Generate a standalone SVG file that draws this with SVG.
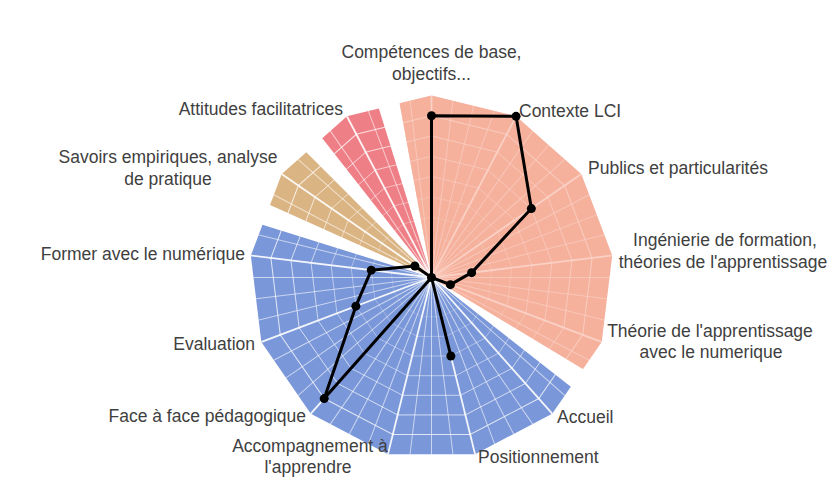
<svg xmlns="http://www.w3.org/2000/svg" xmlns:xlink="http://www.w3.org/1999/xlink" width="828" height="483" viewBox="0 0 828 483">
<style>
  .lbl { font-family: "Liberation Sans", Arial, sans-serif; font-size: 17.5px; fill: #404040; }
  .mid { text-anchor: middle; }
  .end { text-anchor: end; }
  .ring { fill: none; stroke: #ffffff; stroke-width: 1.2; stroke-opacity: 0.75; vector-effect: non-scaling-stroke; }
  .minor { stroke: #ffffff; stroke-width: 1; stroke-opacity: 0.6; }
  .major { stroke: #ffffff; stroke-width: 1.8; stroke-opacity: 0.9; }
  .series { fill: none; stroke: #000000; stroke-width: 3; stroke-linejoin: round; }
  .dot { fill: #000000; }
</style>
<defs>
  <polygon id="gon" points="0,-182 84.58,-161.16 149.79,-103.39 180.67,-21.93 170.17,64.54 120.68,136.23 43.55,176.7 -43.55,176.7 -120.68,136.23 -170.17,64.54 -180.67,-21.93 -149.79,-103.39 -84.58,-161.16"/>
  <clipPath id="outer">
    <polygon points="431.5,95.5 516.08,116.34 581.29,174.11 612.17,255.57 601.67,342.04 552.18,413.73 475.05,454.2 387.95,454.2 310.82,413.73 261.33,342.04 250.83,255.57 281.71,174.11 346.92,116.34"/>
  </clipPath>
</defs>
<rect width="828" height="483" fill="#ffffff"/>

<g id="sectors">
  <polygon id="sector-salmon" fill="#F5B19D" points="431.5,277.5 399.6,103.37 431.5,95.5 516.08,116.34 581.29,174.11 612.17,255.57 601.67,342.04 582.99,369.08"/>
  <polygon id="sector-blue" fill="#7A97D9" points="431.5,277.5 570.82,386.71 552.18,413.73 475.05,454.2 387.95,454.2 310.82,413.73 261.33,342.04 250.83,255.57 262.47,224.85"/>
  <polygon id="sector-tan" fill="#DBB483" points="431.5,277.5 270.03,204.93 281.71,174.11 306.32,152.32"/>
  <polygon id="sector-red" fill="#EF7F86" points="431.5,277.5 322.27,138.2 346.92,116.34 378.85,108.47"/>
</g>

<g id="grid" clip-path="url(#outer)">
  <g transform="translate(431.5 277.5)">
    <use xlink:href="#gon" class="ring" transform="scale(0.1111)"/>
    <use xlink:href="#gon" class="ring" transform="scale(0.2222)"/>
    <use xlink:href="#gon" class="ring" transform="scale(0.3333)"/>
    <use xlink:href="#gon" class="ring" transform="scale(0.4444)"/>
    <use xlink:href="#gon" class="ring" transform="scale(0.5556)"/>
    <use xlink:href="#gon" class="ring" transform="scale(0.6667)"/>
    <use xlink:href="#gon" class="ring" transform="scale(0.7778)"/>
    <use xlink:href="#gon" class="ring" transform="scale(0.8889)"/>
    <g class="minor">
      <line x1="0" y1="0" x2="0" y2="-190" transform="rotate(6.923)"/>
      <line x1="0" y1="0" x2="0" y2="-190" transform="rotate(13.846)"/>
      <line x1="0" y1="0" x2="0" y2="-190" transform="rotate(20.769)"/>
      <line x1="0" y1="0" x2="0" y2="-190" transform="rotate(34.615)"/>
      <line x1="0" y1="0" x2="0" y2="-190" transform="rotate(41.538)"/>
      <line x1="0" y1="0" x2="0" y2="-190" transform="rotate(48.462)"/>
      <line x1="0" y1="0" x2="0" y2="-190" transform="rotate(62.308)"/>
      <line x1="0" y1="0" x2="0" y2="-190" transform="rotate(69.231)"/>
      <line x1="0" y1="0" x2="0" y2="-190" transform="rotate(76.154)"/>
      <line x1="0" y1="0" x2="0" y2="-190" transform="rotate(90)"/>
      <line x1="0" y1="0" x2="0" y2="-190" transform="rotate(96.923)"/>
      <line x1="0" y1="0" x2="0" y2="-190" transform="rotate(103.846)"/>
      <line x1="0" y1="0" x2="0" y2="-190" transform="rotate(117.692)"/>
      <line x1="0" y1="0" x2="0" y2="-190" transform="rotate(124.615)"/>
      <line x1="0" y1="0" x2="0" y2="-190" transform="rotate(131.538)"/>
      <line x1="0" y1="0" x2="0" y2="-190" transform="rotate(145.385)"/>
      <line x1="0" y1="0" x2="0" y2="-190" transform="rotate(152.308)"/>
      <line x1="0" y1="0" x2="0" y2="-190" transform="rotate(159.231)"/>
      <line x1="0" y1="0" x2="0" y2="-190" transform="rotate(173.077)"/>
      <line x1="0" y1="0" x2="0" y2="-190" transform="rotate(180)"/>
      <line x1="0" y1="0" x2="0" y2="-190" transform="rotate(186.923)"/>
      <line x1="0" y1="0" x2="0" y2="-190" transform="rotate(200.769)"/>
      <line x1="0" y1="0" x2="0" y2="-190" transform="rotate(207.692)"/>
      <line x1="0" y1="0" x2="0" y2="-190" transform="rotate(214.615)"/>
      <line x1="0" y1="0" x2="0" y2="-190" transform="rotate(228.462)"/>
      <line x1="0" y1="0" x2="0" y2="-190" transform="rotate(235.385)"/>
      <line x1="0" y1="0" x2="0" y2="-190" transform="rotate(242.308)"/>
      <line x1="0" y1="0" x2="0" y2="-190" transform="rotate(256.154)"/>
      <line x1="0" y1="0" x2="0" y2="-190" transform="rotate(263.077)"/>
      <line x1="0" y1="0" x2="0" y2="-190" transform="rotate(270)"/>
      <line x1="0" y1="0" x2="0" y2="-190" transform="rotate(283.846)"/>
      <line x1="0" y1="0" x2="0" y2="-190" transform="rotate(290.769)"/>
      <line x1="0" y1="0" x2="0" y2="-190" transform="rotate(297.692)"/>
      <line x1="0" y1="0" x2="0" y2="-190" transform="rotate(311.538)"/>
      <line x1="0" y1="0" x2="0" y2="-190" transform="rotate(318.462)"/>
      <line x1="0" y1="0" x2="0" y2="-190" transform="rotate(325.385)"/>
      <line x1="0" y1="0" x2="0" y2="-190" transform="rotate(339.231)"/>
      <line x1="0" y1="0" x2="0" y2="-190" transform="rotate(346.154)"/>
      <line x1="0" y1="0" x2="0" y2="-190" transform="rotate(353.077)"/>
    </g>
    <g class="major">
      <line x1="0" y1="0" x2="0" y2="-190"/>
      <line x1="0" y1="0" x2="0" y2="-190" transform="rotate(27.692)"/>
      <line x1="0" y1="0" x2="0" y2="-190" transform="rotate(55.385)"/>
      <line x1="0" y1="0" x2="0" y2="-190" transform="rotate(83.077)"/>
      <line x1="0" y1="0" x2="0" y2="-190" transform="rotate(110.769)"/>
      <line x1="0" y1="0" x2="0" y2="-190" transform="rotate(138.462)"/>
      <line x1="0" y1="0" x2="0" y2="-190" transform="rotate(166.154)"/>
      <line x1="0" y1="0" x2="0" y2="-190" transform="rotate(193.846)"/>
      <line x1="0" y1="0" x2="0" y2="-190" transform="rotate(221.538)"/>
      <line x1="0" y1="0" x2="0" y2="-190" transform="rotate(249.231)"/>
      <line x1="0" y1="0" x2="0" y2="-190" transform="rotate(276.923)"/>
      <line x1="0" y1="0" x2="0" y2="-190" transform="rotate(304.615)"/>
      <line x1="0" y1="0" x2="0" y2="-190" transform="rotate(332.308)"/>
    </g>
  </g>
  <polygon fill="#F5B19D" fill-opacity="0.55" points="431.5,277.5 399.6,103.37 431.5,95.5 516.08,116.34 581.29,174.11 612.17,255.57 601.67,342.04 582.99,369.08"/>
</g>

<g id="connectors">
  <polygon class="series" points="431.5,115.72 516.08,116.34 531.36,208.57 471.65,272.63 450.41,284.67 431.5,277.5 450.86,356.04 431.5,277.5 324.22,398.59 355.87,306.18 371.27,270.19 414.86,266.01 431.5,277.5"/>
</g>

<g id="markers">
  <circle class="dot" cx="431.5" cy="115.72" r="4.5"/>
  <circle class="dot" cx="516.08" cy="116.34" r="4.5"/>
  <circle class="dot" cx="531.36" cy="208.57" r="4.5"/>
  <circle class="dot" cx="471.65" cy="272.63" r="4.5"/>
  <circle class="dot" cx="450.41" cy="284.67" r="4.5"/>
  <circle class="dot" cx="431.5" cy="277.5" r="4.5"/>
  <circle class="dot" cx="450.86" cy="356.04" r="4.5"/>
  <circle class="dot" cx="324.22" cy="398.59" r="4.5"/>
  <circle class="dot" cx="355.87" cy="306.18" r="4.5"/>
  <circle class="dot" cx="371.27" cy="270.19" r="4.5"/>
  <circle class="dot" cx="414.86" cy="266.01" r="4.5"/>
</g>

<g id="labels">
  <g id="n-competences"><text class="lbl mid" x="431.5" y="58">Compétences de base,</text><text class="lbl mid" x="431.5" y="80">objectifs...</text></g>
  <g id="n-contexte"><text class="lbl" x="519" y="117">Contexte LCI</text></g>
  <g id="n-publics"><text class="lbl" x="588" y="174">Publics et particularités</text></g>
  <g id="n-ingenierie"><text class="lbl mid" x="725" y="246">Ingénierie de formation,</text><text class="lbl mid" x="723" y="268">théories de l'apprentissage</text></g>
  <g id="n-theorie"><text class="lbl mid" x="710" y="337">Théorie de l'apprentissage</text><text class="lbl mid" x="711" y="358">avec le numerique</text></g>
  <g id="n-accueil"><text class="lbl" x="557" y="423">Accueil</text></g>
  <g id="n-positionnement"><text class="lbl" x="478" y="463">Positionnement</text></g>
  <g id="n-accompagnement"><text class="lbl mid" x="310" y="452">Accompagnement à</text><text class="lbl mid" x="308" y="473">l'apprendre</text></g>
  <g id="n-face"><text class="lbl end" x="306" y="422">Face à face pédagogique</text></g>
  <g id="n-evaluation"><text class="lbl end" x="255" y="350">Evaluation</text></g>
  <g id="n-former"><text class="lbl end" x="245" y="260">Former avec le numérique</text></g>
  <g id="n-savoirs"><text class="lbl mid" x="168" y="163">Savoirs empiriques, analyse</text><text class="lbl mid" x="168" y="185">de pratique</text></g>
  <g id="n-attitudes"><text class="lbl end" x="343" y="115">Attitudes facilitatrices</text></g>
</g>
</svg>
